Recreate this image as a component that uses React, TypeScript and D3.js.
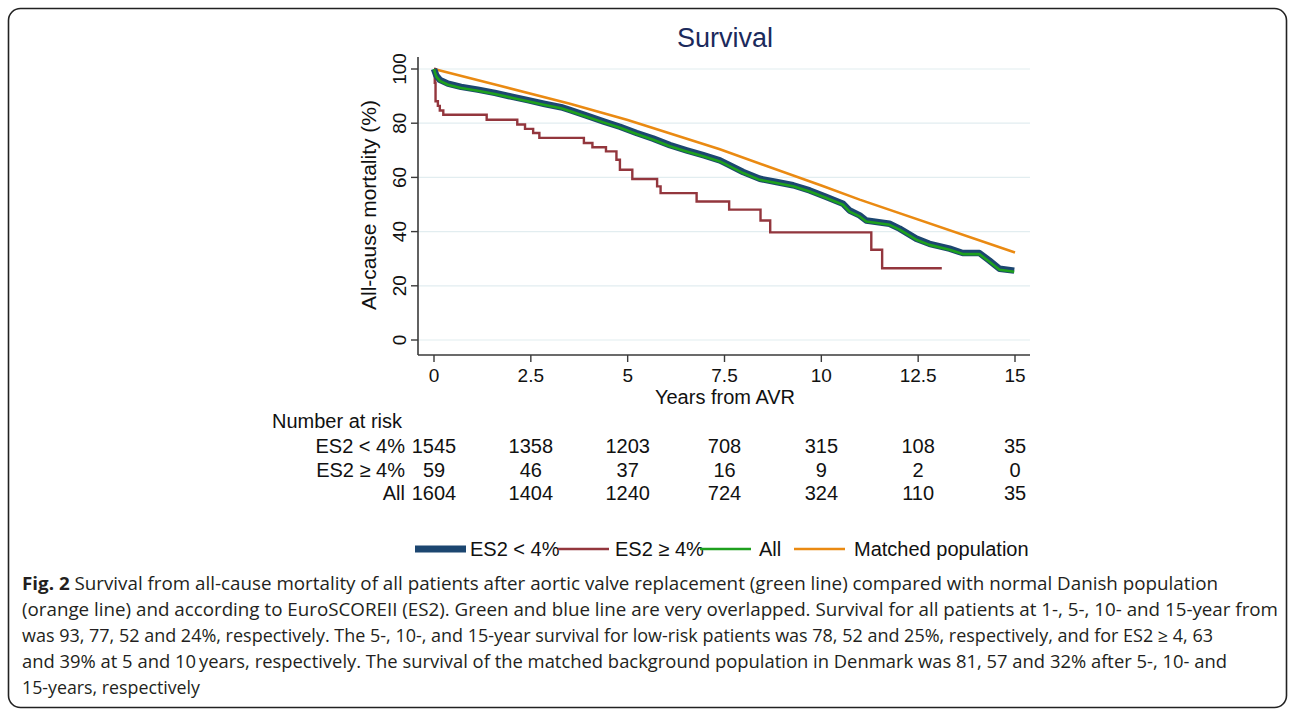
import React from "react";
import * as d3 from "d3";

// ---- Data ----
const xTicks = [0, 2.5, 5, 7.5, 10, 12.5, 15];
const yTicks = [0, 20, 40, 60, 80, 100];

// All patients (green)
const allTime = [0, 0.03, 0.06, 0.15, 0.36, 0.70, 1.13, 1.57, 2.0, 2.42, 2.86, 3.28, 3.5, 3.94, 4.37, 4.80, 5.23, 5.66, 6.09, 6.52, 6.95, 7.38, 7.55, 7.98, 8.41, 8.84, 9.27, 9.70, 10.13, 10.56, 10.73, 10.99, 11.16, 11.76, 12.02, 12.45, 12.79, 13.31, 13.65, 14.08, 14.34, 14.60, 14.98];
const allSurv = [100, 98.5, 97.2, 95.6, 94.2, 93.0, 92.0, 90.8, 89.4, 88.1, 86.7, 85.5, 84.5, 82.4, 80.3, 78.3, 76.0, 73.9, 71.5, 69.6, 67.8, 65.9, 64.7, 61.6, 59.1, 57.9, 56.7, 54.8, 52.4, 49.9, 47.4, 45.6, 43.7, 42.5, 40.7, 37.0, 35.1, 33.3, 31.7, 31.7, 28.9, 25.9, 25.2];

// ES2 < 4% (navy, thick)
const lowTime = [0, 0.03, 0.06, 0.15, 0.36, 0.70, 1.13, 1.57, 2.0, 2.42, 2.86, 3.28, 3.5, 3.94, 4.37, 4.80, 5.23, 5.66, 6.09, 6.52, 6.95, 7.38, 7.55, 7.98, 8.41, 8.84, 9.27, 9.70, 10.13, 10.56, 10.73, 10.99, 11.16, 11.76, 12.02, 12.45, 12.79, 13.31, 13.65, 14.08, 14.34, 14.60, 14.98];
const lowSurv = [100, 98.8, 97.6, 96.0, 94.6, 93.4, 92.4, 91.2, 89.8, 88.5, 87.1, 85.9, 84.9, 82.8, 80.7, 78.7, 76.4, 74.3, 71.9, 70.0, 68.2, 66.3, 65.1, 62.0, 59.5, 58.3, 57.1, 55.2, 52.8, 50.3, 47.8, 46.0, 44.1, 42.9, 41.1, 37.4, 35.5, 33.7, 32.1, 32.1, 29.3, 26.3, 25.6];

// ES2 >= 4% (maroon, step)
const highTime = [0, 0.02, 0.04, 0.10, 0.15, 0.24, 1.36, 2.15, 2.35, 2.56, 2.72, 3.87, 4.09, 4.44, 4.71, 4.80, 5.12, 5.76, 5.85, 6.78, 7.62, 8.43, 8.68, 11.29, 11.57, 13.11];
const highSurv = [100, 94.9, 88.1, 86.4, 84.7, 83.1, 81.3, 79.5, 77.9, 76.4, 74.6, 72.7, 71.1, 69.6, 66.5, 62.8, 59.4, 56.7, 54.2, 51.1, 48.1, 44.1, 39.7, 33.3, 26.5, 26.5];

// Matched population (orange)
const popTime = [0, 1.70, 3.51, 5, 7.38, 10, 10.99, 15];
const popSurv = [100, 93.8, 87.2, 81.2, 70.4, 57.0, 51.8, 32.3];

// Number at risk
const riskGroups = ["ES2 < 4%", "ES2 \u2265 4%", "All"];
const riskLow = [1545, 1358, 1203, 708, 315, 108, 35];
const riskHigh = [59, 46, 37, 16, 9, 2, 0];
const riskAll = [1604, 1404, 1240, 724, 324, 110, 35];

const legendLabels = ["ES2 < 4%", "ES2 \u2265 4%", "All", "Matched population"];

const captionLines = [
  "Survival from all-cause mortality of all patients after aortic valve replacement (green line) compared with normal Danish population",
  "(orange line) and according to EuroSCOREII (ES2). Green and blue line are very overlapped. Survival for all patients at 1-, 5-, 10- and 15-year from",
  "was 93, 77, 52 and 24%, respectively. The 5-, 10-, and 15-year survival for low-risk patients was 78, 52 and 25%, respectively, and for ES2 \u2265 4, 63",
  "and 39% at 5 and 10\u2009years, respectively. The survival of the matched background population in Denmark was 81, 57 and 32% after 5-, 10- and",
  "15-years, respectively",
];
const captionEnds = [1218, 1278, 1213, 1227, 200];

const COLORS = {
  navy: "#1c4670",
  maroon: "#93363d",
  green: "#1ea01e",
  orange: "#ea8a12",
  title: "#1b2a5c",
};

export default function App() {
  const W = 1295;
  const H = 718;
  const x = d3.scaleLinear().domain([0, 15]).range([434, 1015]);
  const y = d3.scaleLinear().domain([0, 100]).range([340, 69]);
  const plotLeft = 418;
  const plotRight = 1030;
  const axisY = 355;
  const font = "'Liberation Sans', Arial, Helvetica, sans-serif";

  const zip = (t: number[], v: number[]) => t.map((d, i) => [d, v[i]] as [number, number]);
  const lineLin = d3.line<[number, number]>().x((d) => x(d[0])).y((d) => y(d[1])).curve(d3.curveLinear);
  const lineStep = d3.line<[number, number]>().x((d) => x(d[0])).y((d) => y(d[1])).curve(d3.curveStepAfter);

  const riskRows = [riskLow, riskHigh, riskAll];
  const riskBase = [453, 477, 500];

  const legendKeyX = [415, 558, 700, 794];
  const legendTextX = [470, 615, 759, 854];
  const legendColors = [COLORS.navy, COLORS.maroon, COLORS.green, COLORS.orange];
  const legendWidths = [7, 2.5, 2.5, 2.5];
  const legendY = 549;

  return (
    <svg width={W} height={H} style={{ position: "absolute", left: 0, top: 0, background: "#fff" }} fontFamily={font}>
      <rect x={0} y={0} width={W} height={H} fill="#fff" />
      <rect x={8.5} y={8.5} width={1278} height={699} rx={12} ry={12} fill="none" stroke="#222" strokeWidth={1.6} />

      {/* Title */}
      <text x={725} y={47} textAnchor="middle" fontSize={27} fill={COLORS.title}>Survival</text>

      {/* Grid lines */}
      {yTicks.map((t) => (
        <line key={"g" + t} x1={plotLeft} x2={plotRight} y1={y(t)} y2={y(t)} stroke="#e2edf0" strokeWidth={1.2} />
      ))}

      {/* Y axis */}
      <line x1={plotLeft} x2={plotLeft} y1={57} y2={axisY} stroke="#3a3a3a" strokeWidth={1.6} />
      {yTicks.map((t) => (
        <g key={"y" + t}>
          <line x1={plotLeft - 7} x2={plotLeft} y1={y(t)} y2={y(t)} stroke="#3a3a3a" strokeWidth={1.4} />
          <text transform={`translate(406,${y(t)}) rotate(-90)`} textAnchor="middle" fontSize={19} fill="#111">{t}</text>
        </g>
      ))}
      <text transform={`translate(376,205) rotate(-90)`} textAnchor="middle" fontSize={21} fill="#111">All-cause mortality (%)</text>

      {/* X axis */}
      <line x1={plotLeft} x2={plotRight} y1={axisY} y2={axisY} stroke="#3a3a3a" strokeWidth={1.6} />
      {xTicks.map((t) => (
        <g key={"x" + t}>
          <line x1={x(t)} x2={x(t)} y1={axisY} y2={axisY + 7} stroke="#3a3a3a" strokeWidth={1.4} />
          <text x={x(t)} y={382} textAnchor="middle" fontSize={19} fill="#111">{t}</text>
        </g>
      ))}
      <text x={725} y={404} textAnchor="middle" fontSize={20} fill="#111">Years from AVR</text>

      {/* Curves */}
      <path d={lineLin(zip(popTime, popSurv)) || ""} fill="none" stroke={COLORS.orange} strokeWidth={2.6} />
      <path d={lineStep(zip(highTime, highSurv)) || ""} fill="none" stroke={COLORS.maroon} strokeWidth={2.4} />
      <path d={lineLin(zip(lowTime, lowSurv)) || ""} fill="none" stroke={COLORS.navy} strokeWidth={6.5} strokeLinejoin="round" />
      <path d={lineLin(zip(allTime, allSurv)) || ""} fill="none" stroke={COLORS.green} strokeWidth={2.6} strokeLinejoin="round" />

      {/* Number at risk */}
      <text x={272} y={428} fontSize={20} fill="#111">Number at risk</text>
      {riskGroups.map((g, i) => (
        <g key={"r" + i}>
          <text x={405} y={riskBase[i]} textAnchor="end" fontSize={20} fill="#111">{g}</text>
          {riskRows[i].map((n, j) => (
            <text key={j} x={x(xTicks[j])} y={riskBase[i]} textAnchor="middle" fontSize={20} fill="#111">{n}</text>
          ))}
        </g>
      ))}

      {/* Legend */}
      {legendLabels.map((l, i) => (
        <g key={"l" + i}>
          <line x1={legendKeyX[i]} x2={legendKeyX[i] + 51} y1={legendY} y2={legendY} stroke={legendColors[i]} strokeWidth={legendWidths[i]} />
          <text x={legendTextX[i]} y={legendY + 7} fontSize={20} fill="#111">{l}</text>
        </g>
      ))}

      {/* Caption */}
      {captionLines.map((line, i) => (
        <text key={"c" + i} x={22} y={590 + i * 26} fontSize={17.5} fill="#231f20" fontFamily="'Open Sans', 'Noto Sans', sans-serif"
          textLength={captionEnds[i] - 22} lengthAdjust="spacingAndGlyphs">
          {i === 0 ? <tspan fontWeight="bold">Fig. 2 </tspan> : null}
          {line}
        </text>
      ))}
    </svg>
  );
}
